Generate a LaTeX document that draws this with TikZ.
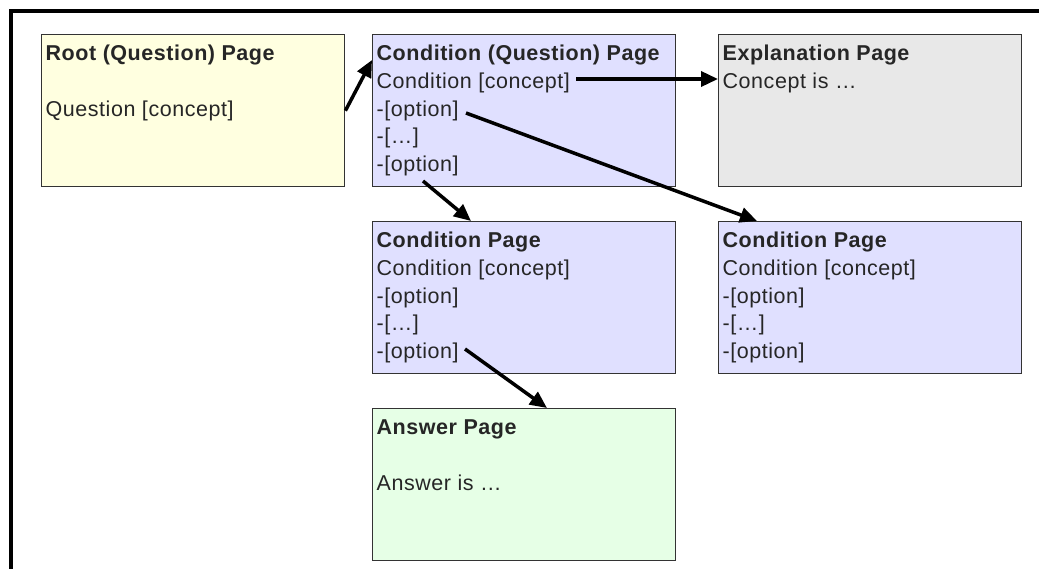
\documentclass[tikz,border=0pt]{standalone}
\usepackage{fontspec}
\setmainfont[LetterSpace=2.5]{Liberation Sans}
\usetikzlibrary{arrows.meta}

\definecolor{rootfill}{RGB}{255,255,224}
\definecolor{condfill}{RGB}{224,224,255}
\definecolor{explfill}{RGB}{232,232,232}
\definecolor{answfill}{RGB}{230,255,230}

\newcommand{\pagetext}[1]{\parbox[c][152pt][t]{295pt}{\fontsize{21.5}{27.7}\selectfont\color{black!85}\rule{0pt}{26pt}#1}}

\begin{document}
\begin{tikzpicture}[x=1pt,y=-1pt,
        page/.style={draw=black!80, line width=1.4pt, anchor=north west, inner xsep=4pt, inner ysep=0pt},
        flow/.style={-{Triangle[length=17pt,width=15pt]}, line width=3.5pt}]
        \useasboundingbox (0,0) rectangle (1039,569);
        \draw [line width=4pt] (1039,11.5) -- (10.5,11.5) -- (10.5,569);
        % top row
        \node [page, fill=rootfill] (root) at (41,34) {\pagetext{\textbf{Root (Question) Page}\\[27.7pt]Question [concept]}};
        \node [page, fill=condfill] (condq) at (372,34) {\pagetext{\textbf{Condition (Question) Page}\\Condition [concept]\\-[option]\\-[\ldots]\\-[option]}};
        \node [page, fill=explfill] (expl) at (718,34) {\pagetext{\textbf{Explanation Page}\\Concept is \ldots}};
        % middle row
        \node [page, fill=condfill] (lcond) at (372,221) {\pagetext{\textbf{Condition Page}\\Condition [concept]\\-[option]\\-[\ldots]\\-[option]}};
        \node [page, fill=condfill] (rcond) at (718,221) {\pagetext{\textbf{Condition Page}\\Condition [concept]\\-[option]\\-[\ldots]\\-[option]}};
        % bottom row
        \node [page, fill=answfill] (answer) at (372,408) {\pagetext{\textbf{Answer Page}\\[27.7pt]Answer is \ldots}};
        % arrows
        \coordinate (cqhead) at (372,60);
        \coordinate (cqconcept) at (576,79);
        \coordinate (cqoptA) at (466,113);
        \coordinate (cqoptB) at (423,181);
        \coordinate (rcondhead) at (757,221);
        \coordinate (lcondhead) at (471,221);
        \coordinate (lcopt) at (465,349);
        \coordinate (answerhead) at (547,408);
        \draw [flow] (root.east) -- (cqhead);
        \draw [flow] (cqconcept) -- (cqconcept -| expl.west);
        \draw [flow] (cqoptA) -- (rcondhead);
        \draw [flow] (cqoptB) -- (lcondhead);
        \draw [flow] (lcopt) -- (answerhead);
        \end{tikzpicture}
\end{document}
